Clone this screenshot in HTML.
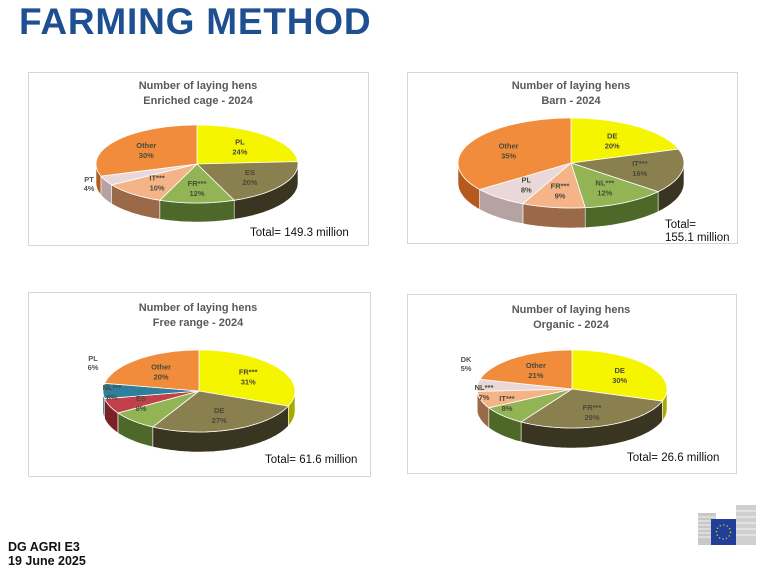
<!DOCTYPE html>
<html><head><meta charset="utf-8"><style>
body{margin:0;width:768px;height:573px;background:#fff;overflow:hidden;font-family:"Liberation Sans",sans-serif;}
#t{position:absolute;left:19px;top:1px;font-size:37px;font-weight:bold;color:#1d4f91;letter-spacing:0.8px}
.f{position:absolute;left:8px;font-size:12.5px;font-weight:bold;color:#111}
svg{position:absolute;left:0;top:0}
</style></head><body>
<div id="t">FARMING METHOD</div>
<div class="f" style="top:540px">DG AGRI E3</div>
<div class="f" style="top:554px">19 June 2025</div>
<svg id="s" width="768" height="573" xmlns="http://www.w3.org/2000/svg" font-family="Liberation Sans, sans-serif">
<rect x="28.5" y="72.5" width="340" height="173" fill="none" stroke="#d6d6d6"/>
<rect x="407.5" y="72.5" width="330" height="171" fill="none" stroke="#d6d6d6"/>
<rect x="28.5" y="292.5" width="342" height="184" fill="none" stroke="#d6d6d6"/>
<rect x="407.5" y="294.5" width="329" height="179" fill="none" stroke="#d6d6d6"/>
<g font-size="11" font-weight="bold" fill="#595959" text-anchor="middle">
<text x="198" y="89">Number of laying hens</text><text x="198" y="104">Enriched cage - 2024</text>
<text x="571" y="89">Number of laying hens</text><text x="571" y="104">Barn - 2024</text>
<text x="198" y="311">Number of laying hens</text><text x="198" y="326">Free range - 2024</text>
<text x="571" y="313">Number of laying hens</text><text x="571" y="328">Organic - 2024</text>
</g>
<g font-size="11.5" fill="#111">
<text x="250" y="236">Total=  149.3 million</text>
<text x="665" y="228">Total=</text><text x="665" y="241">155.1 million</text>
<text x="265" y="463">Total=  61.6 million</text>
<text x="627" y="461">Total=  26.6 million</text>
</g>
<g id="pies"></g>
<g font-size="7.5" font-weight="bold" fill="#555" text-anchor="middle">
<text x="89" y="182">PT</text><text x="89" y="191">4%</text>
<text x="93" y="361">PL</text><text x="93" y="370">6%</text>
<text x="466" y="362">DK</text><text x="466" y="371">5%</text>
</g>
<g transform="translate(698,505)">
<rect x="0" y="8" width="18" height="32" fill="#c8c8c8"/>
<rect x="38" y="0" width="20" height="40" fill="#d0d0d0"/>
<g stroke="#fff" stroke-width="0.7">
<line x1="0" y1="12" x2="18" y2="12"/><line x1="0" y1="16" x2="18" y2="16"/><line x1="0" y1="20" x2="18" y2="20"/><line x1="0" y1="24" x2="18" y2="24"/><line x1="0" y1="28" x2="18" y2="28"/><line x1="0" y1="32" x2="18" y2="32"/>
<line x1="38" y1="6" x2="58" y2="6"/><line x1="38" y1="12" x2="58" y2="12"/><line x1="38" y1="18" x2="58" y2="18"/><line x1="38" y1="24" x2="58" y2="24"/><line x1="38" y1="30" x2="58" y2="30"/>
</g>
<rect x="13" y="14" width="25" height="26" fill="#1f3f99"/>
<circle cx="25.5" cy="27" r="7" fill="none" stroke="#ffdd00" stroke-width="1.2" stroke-dasharray="1.2 2.4"/>
</g>
</svg>
<script>
var C={y:"#f5f500",o:"#8a7f4f",g:"#92b455",p:"#f5b487",w:"#ead8d8",r:"#f08c3c",t:"#2e7f9c",d:"#c2404a"};
var D={y:"#a8a800",o:"#3a3520",g:"#4d6828",p:"#9a6a48",w:"#b6a2a2",r:"#b55a1f",t:"#1c5066",d:"#7a2228"};
var pies=[
{cx:197,cy:164,rx:101,ry:39,h:19,s:[["PL",24,"y"],["ES",20,"o"],["FR***",12,"g"],["IT***",10,"p"],["",4,"w"],["Other",30,"r"]]},
{cx:571,cy:163,rx:113,ry:45,h:20,s:[["DE",20,"y"],["IT***",16,"o"],["NL***",12,"g"],["FR***",9,"p"],["PL",8,"w"],["Other",35,"r"]]},
{cx:199,cy:391,rx:96,ry:41,h:20,s:[["FR***",31,"y"],["DE",27,"o"],["ES",8,"g"],["NL***",6,"d"],["",6,"t"],["Other",22,"r"]],lab:{"NL***":"6%","Other":"20%"},pos:{"NL***":[112,392],"ES":[141,403]}},
{cx:572,cy:389,rx:95,ry:39,h:20,s:[["DE",30,"y"],["FR***",29,"o"],["IT***",8,"g"],["NL***",7,"p"],["",5,"w"],["Other",21,"r"]],pos:{"NL***":[484,392],"IT***":[507,403]}}];
var out="";
function P(p,a,dy){a=a*Math.PI/180;return (p.cx+p.rx*Math.sin(a)).toFixed(1)+","+(p.cy-p.ry*Math.cos(a)+(dy||0)).toFixed(1);}
pies.forEach(function(p,pi){
 var tot=0;p.s.forEach(function(s){tot+=s[1];});
 var a=0,sides="",tops="",labs="";
 p.s.forEach(function(s){
  var a0=a,a1=a+s[1]/tot*360;a=a1;
  var b0=Math.max(a0,90),b1=Math.min(a1,270);
  if(b1>b0){var pts=[],k;
   for(k=b0;k<=b1;k+=2)pts.push(P(p,k));pts.push(P(p,b1));
   for(k=b1;k>=b0;k-=2)pts.push(P(p,k,p.h));pts.push(P(p,b0,p.h));
   sides+='<polygon points="'+pts.join(" ")+'" fill="'+D[s[2]]+'" stroke="#fff" stroke-width="0.6"/>';}
  var pts=[p.cx+","+p.cy];for(var k=a0;k<=a1;k+=2)pts.push(P(p,k));pts.push(P(p,a1));
  tops+='<polygon points="'+pts.join(" ")+'" fill="'+C[s[2]]+'" stroke="#fff" stroke-width="0.8"/>';
  if(s[0]){var m=(a0+a1)/2*Math.PI/180,f=0.62;
   var x=p.cx+p.rx*f*Math.sin(m),y=p.cy-p.ry*f*Math.cos(m);
   if(p.pos&&p.pos[s[0]]){x=p.pos[s[0]][0];y=p.pos[s[0]][1];}
   var pc=(p.lab&&p.lab[s[0]])||(s[1]+"%");
   labs+='<text x="'+x.toFixed(1)+'" y="'+(y-2).toFixed(1)+'">'+s[0]+'</text><text x="'+x.toFixed(1)+'" y="'+(y+8).toFixed(1)+'">'+pc+'</text>';}
 });
 out+=sides+tops+'<g font-size="7.5" font-weight="bold" fill="#4a4a3a" text-anchor="middle">'+labs+'</g>';
});
document.getElementById("pies").innerHTML=out;
</script>
</body></html>
